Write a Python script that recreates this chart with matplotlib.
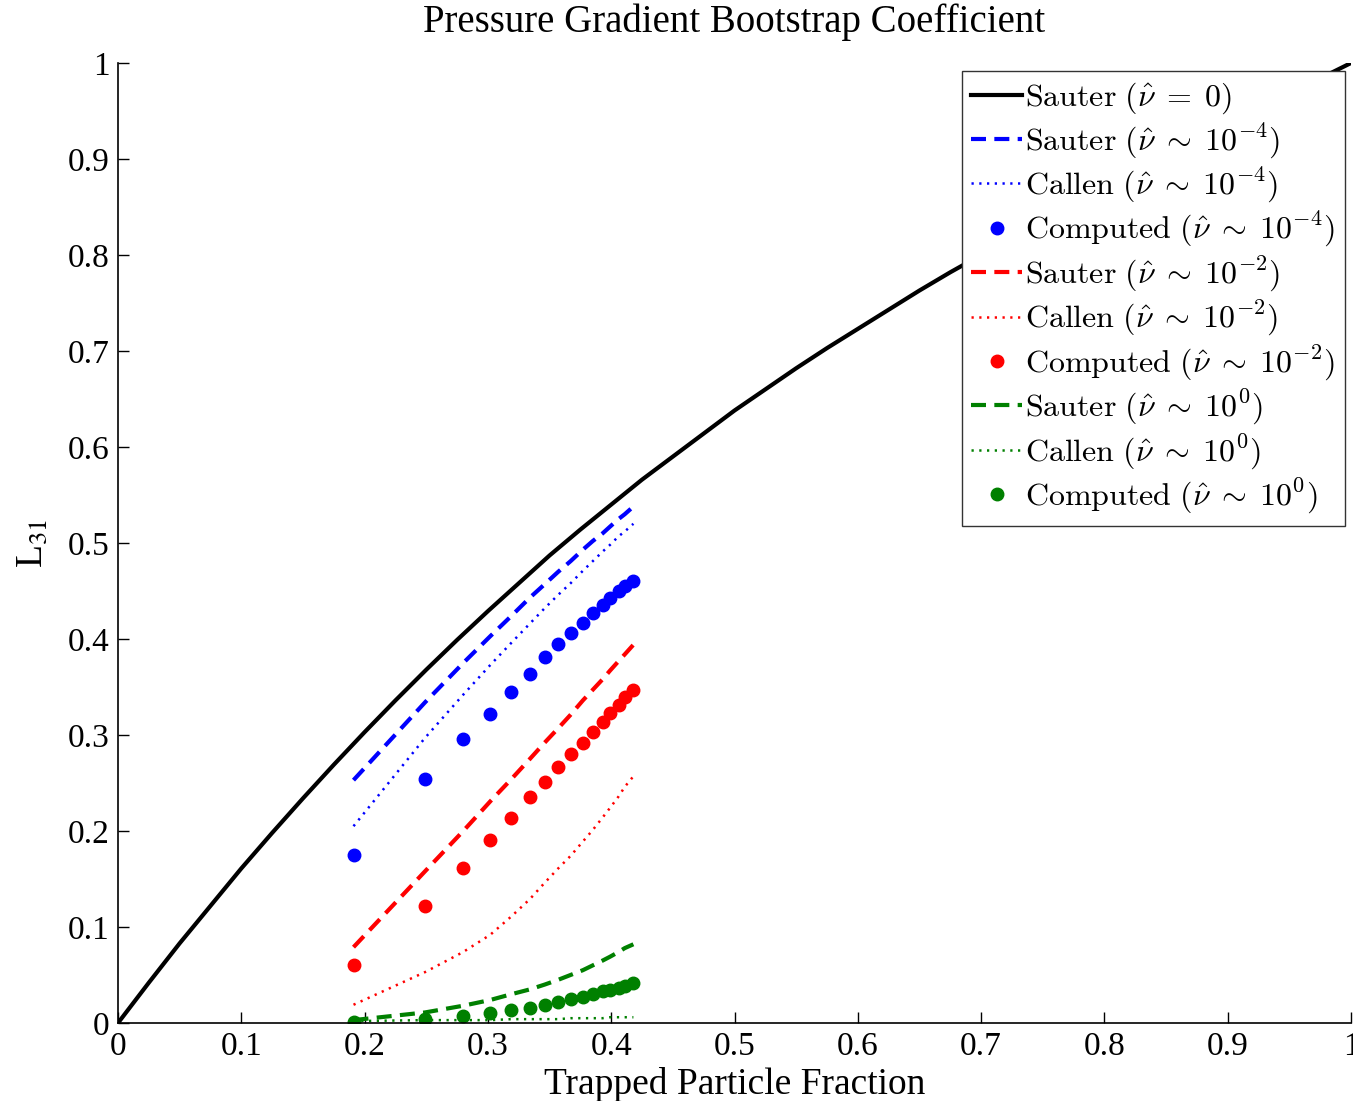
import numpy as np
import matplotlib
matplotlib.use('Agg')
import matplotlib.pyplot as plt

plt.rcParams['font.family'] = ['Liberation Serif', 'DejaVu Serif']
plt.rcParams['mathtext.fontset'] = 'stix'

########## data ##########

# Sauter, nu = 0 (full range)
ft_full = [0.0, 0.025, 0.05, 0.075, 0.1, 0.125, 0.15, 0.175, 0.2, 0.225, 0.25,
           0.275, 0.3, 0.325, 0.35, 0.375, 0.4, 0.425, 0.45, 0.475, 0.5,
           0.525, 0.55, 0.575, 0.6, 0.625, 0.65, 0.675, 0.7, 0.725, 0.75,
           0.775, 0.8, 0.825, 0.85, 0.875, 0.9, 0.925, 0.95, 0.975, 1.0]
sauter_0 = [0.0, 0.042, 0.083, 0.122, 0.161, 0.198, 0.234, 0.269, 0.303, 0.336, 0.368,
            0.399, 0.429, 0.458, 0.487, 0.514, 0.540, 0.566, 0.590, 0.614, 0.638,
            0.660, 0.682, 0.703, 0.723, 0.743, 0.763, 0.782, 0.800, 0.818, 0.836,
            0.853, 0.870, 0.887, 0.903, 0.919, 0.936, 0.952, 0.968, 0.984, 1.0]

# trapped fraction of the computed cases
ft = [0.191, 0.249, 0.280, 0.302, 0.319, 0.334, 0.346, 0.357,
      0.367, 0.377, 0.385, 0.393, 0.399, 0.406, 0.411, 0.418]

sauter_m4 = [0.253, 0.334, 0.375, 0.403, 0.424, 0.443, 0.457, 0.470,
             0.481, 0.493, 0.502, 0.510, 0.517, 0.525, 0.530, 0.538]
callen_m4 = [0.205, 0.297, 0.342, 0.373, 0.396, 0.416, 0.432, 0.446,
             0.458, 0.471, 0.481, 0.491, 0.498, 0.507, 0.512, 0.520]
comp_m4 = [0.175, 0.254, 0.296, 0.322, 0.345, 0.364, 0.381, 0.395,
           0.406, 0.417, 0.427, 0.435, 0.443, 0.450, 0.455, 0.460]

sauter_m2 = [0.079, 0.158, 0.200, 0.231, 0.254, 0.275, 0.292, 0.307,
             0.321, 0.336, 0.347, 0.358, 0.367, 0.377, 0.384, 0.394]
callen_m2 = [0.019, 0.053, 0.074, 0.092, 0.111, 0.129, 0.146, 0.161,
             0.174, 0.189, 0.201, 0.214, 0.224, 0.236, 0.246, 0.257]
comp_m2 = [0.060, 0.122, 0.161, 0.191, 0.214, 0.235, 0.251, 0.267,
           0.280, 0.292, 0.303, 0.314, 0.323, 0.331, 0.340, 0.347]

sauter_0p = [0.003, 0.011, 0.018, 0.024, 0.030, 0.035, 0.040, 0.045,
             0.050, 0.055, 0.060, 0.065, 0.069, 0.074, 0.078, 0.082]
callen_0p = [0.002, 0.003, 0.003, 0.003, 0.004, 0.004, 0.004, 0.004,
             0.005, 0.005, 0.005, 0.005, 0.006, 0.006, 0.006, 0.006]
comp_0p = [0.001, 0.004, 0.007, 0.010, 0.014, 0.016, 0.019, 0.022,
           0.025, 0.027, 0.030, 0.033, 0.034, 0.036, 0.039, 0.042]

ticks = [0, 0.1, 0.2, 0.3, 0.4, 0.5, 0.6, 0.7, 0.8, 0.9, 1]
tick_labels = ['0', '0.1', '0.2', '0.3', '0.4', '0.5', '0.6', '0.7', '0.8', '0.9', '1']

########## plot ##########

fig = plt.figure(figsize=(13.53, 11.01), dpi=100)
ax = fig.add_axes([118/1353, 1 - 1023/1101, 1233/1353, 960/1101])

blue, red, green = '#0000ff', '#ff0000', '#008000'
dash = (3.6, 2.0)
dot = (0.9, 2.2)

ax.plot(ft_full, sauter_0, color='k', lw=3, label=r'$\mathrm{Sauter}\ (\hat{\nu}\;=\;0)$')

ax.plot(ft, sauter_m4, color=blue, lw=3, dashes=dash, label=r'$\mathrm{Sauter}\ (\hat{\nu}\;\sim\;10^{-4})$')
ax.plot(ft, callen_m4, color=blue, lw=1.8, dashes=dot, label=r'$\mathrm{Callen}\ (\hat{\nu}\;\sim\;10^{-4})$')
ax.plot(ft, comp_m4, 'o', color=blue, ms=9, mec=blue, label=r'$\mathrm{Computed}\ (\hat{\nu}\;\sim\;10^{-4})$')

ax.plot(ft, sauter_m2, color=red, lw=3, dashes=dash, label=r'$\mathrm{Sauter}\ (\hat{\nu}\;\sim\;10^{-2})$')
ax.plot(ft, callen_m2, color=red, lw=1.8, dashes=dot, label=r'$\mathrm{Callen}\ (\hat{\nu}\;\sim\;10^{-2})$')
ax.plot(ft, comp_m2, 'o', color=red, ms=9, mec=red, label=r'$\mathrm{Computed}\ (\hat{\nu}\;\sim\;10^{-2})$')

ax.plot(ft, sauter_0p, color=green, lw=3, dashes=dash, label=r'$\mathrm{Sauter}\ (\hat{\nu}\;\sim\;10^{0})$')
ax.plot(ft, callen_0p, color=green, lw=1.8, dashes=dot, label=r'$\mathrm{Callen}\ (\hat{\nu}\;\sim\;10^{0})$')
ax.plot(ft, comp_0p, 'o', color=green, ms=9, mec=green, label=r'$\mathrm{Computed}\ (\hat{\nu}\;\sim\;10^{0})$')

ax.set_xlim(0, 1)
ax.set_ylim(0, 1)
ax.set_xticks(ticks)
ax.set_xticklabels(tick_labels)
ax.set_yticks(ticks)
ax.set_yticklabels(tick_labels)
ax.tick_params(direction='in', length=8, width=1, labelsize=24, pad=6)
for s in ['top', 'right']:
    ax.spines[s].set_visible(False)
for s in ['left', 'bottom']:
    ax.spines[s].set_linewidth(1.2)

ax.set_title('Pressure Gradient Bootstrap Coefficient', fontsize=28, pad=22)
ax.set_xlabel('Trapped Particle Fraction', fontsize=27, labelpad=4)
ax.set_ylabel(r'L$_{31}$', fontsize=27, labelpad=13)

leg = ax.legend(loc='upper right', bbox_to_anchor=(0.9951, 0.9917), borderaxespad=0,
                prop=dict(size=23, math_fontfamily='cm'), fancybox=False, framealpha=1,
                edgecolor='#333333', handlelength=1.6, handletextpad=0.1,
                labelspacing=0.17, borderpad=0.3, numpoints=1)
leg.get_frame().set_linewidth(1.0)

fig.savefig('out.png', dpi=100)
